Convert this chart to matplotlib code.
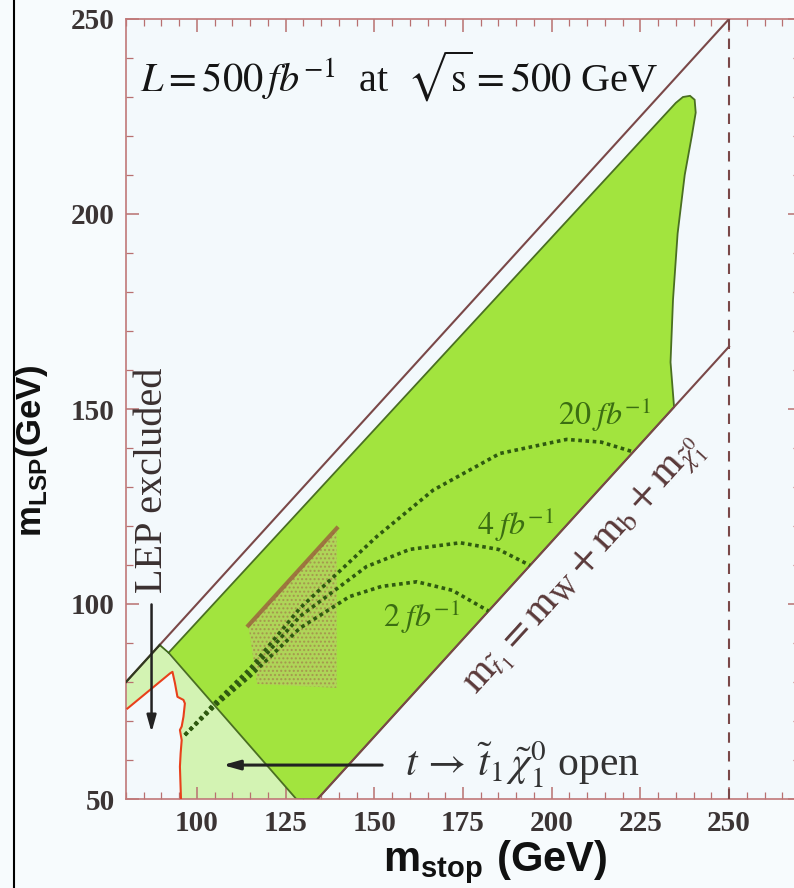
import numpy as np
import matplotlib.pyplot as plt
from matplotlib.patches import Polygon
from matplotlib.lines import Line2D

plt.rcParams['mathtext.fontset'] = 'custom'
plt.rcParams['mathtext.bf'] = 'Liberation Sans:bold'
plt.rcParams['mathtext.rm'] = 'Liberation Sans:bold'
plt.rcParams['hatch.linewidth'] = 1.0

# kinematic limits (m_stop, m_LSP) in GeV
diag_x = [80, 250]
diag_y = [80, 250]
wb_x = [134, 250]          # m_stop = mW + mb + m_LSP
wb_y = [50, 166]
root_s_x = 250             # sqrt(s)/2

# reach region (dark green)
green_x = [92, 128, 134, 234.5, 233.5, 234.2, 235.5, 237.5, 239.5, 240.6, 240.3, 239, 237, 235, 92]
green_y = [87.5, 50, 50, 150.5, 162, 178, 195, 210, 220, 226, 229.3, 230.3, 230, 228.5, 87.5]

# t -> stop + LSP open region (light green)
open_x = [80, 89.5, 129, 95.5, 95.2, 95.4, 95.7, 95.2, 95.7, 96.2, 96.6, 96.2, 94.5, 93.8, 93.1, 92.4, 80]
open_y = [80, 89.5, 50, 50, 58.3, 61.7, 65.1, 67.7, 68.6, 71.1, 74.5, 75.4, 76.2, 79.7, 82.6, 82.2, 73.2]

# LEP excluded boundary
lep_x = [80.4, 92.4, 93.1, 93.8, 94.5, 96.2, 96.6, 96.2, 95.7, 95.2, 95.7, 95.4, 95.2, 95.5]
lep_y = [73.2, 82.2, 82.6, 79.7, 76.2, 75.4, 74.5, 71.1, 68.6, 67.7, 65.1, 61.7, 58.3, 50]

# luminosity reach curves
c2_x = [96.6, 105, 115, 129, 143, 152, 162, 172, 182.2]
c2_y = [66.4, 73.8, 81.5, 93.8, 101.9, 104.5, 105.7, 103.5, 98.2]
c4_x = [96.6, 105, 115, 129, 147.8, 160, 174.2, 185, 193.9]
c4_y = [66.4, 74.2, 82.5, 96.8, 109.6, 114, 115.7, 114, 109.9]
c20_x = [96.6, 105, 115, 129, 150.7, 166.6, 185.4, 204.2, 214, 223]
c20_y = [66.4, 74.6, 83.5, 98.9, 117.3, 129.2, 138.6, 142.2, 141.5, 139]

# simulated scan points (triangle)
scan_x = [114.5, 139.4, 139.4, 117]
scan_y = [94.5, 119.4, 78.5, 79.5]

brown = '#7a4848'
dkgreen = '#2f5a10'
serif = 'Liberation Serif'

fig = plt.figure(figsize=(7.94, 8.88), dpi=100, facecolor='#f7fbfd')
ax = fig.add_axes([126 / 794, 1 - 799 / 888, 674 / 794, 780 / 888])
ax.set_facecolor('#f3f9fc')
ax.set_xlim(80, 270)
ax.set_ylim(50, 250)

ax.add_patch(Polygon(np.column_stack([open_x, open_y]), closed=True,
                     facecolor='#d3f3b3', edgecolor='none', zorder=1))
ax.add_patch(Polygon(np.column_stack([green_x, green_y]), closed=True,
                     facecolor='#a2e43e', edgecolor='#4a6f22', lw=1.3, zorder=2))
# extension of t-threshold line to the diagonal
ax.plot([green_x[0], open_x[1]], [green_y[0], open_y[1]], color='#3d6a18', lw=1.3, zorder=3)
ax.plot(diag_x, diag_y, color=brown, lw=1.5, zorder=5)
ax.plot([diag_x[0], open_x[1]], [diag_y[0], open_y[1]], color='#2f3a20', lw=1.5, zorder=5)

ax.add_patch(Polygon(np.column_stack([scan_x, scan_y]), closed=True,
                     facecolor='#b8cc6a', edgecolor='#a07848', hatch='....',
                     lw=0, alpha=0.6, zorder=3))
ax.plot(scan_x[:2], scan_y[:2], color='#9a5e3c', lw=3, alpha=0.8, zorder=4)

ax.plot(wb_x, wb_y, color=brown, lw=1.5, zorder=5)
ax.axvline(root_s_x, color=brown, lw=1.5, ls=(0, (5, 4)), zorder=5)
ax.plot(lep_x, lep_y, color='#e8401a', lw=1.5, zorder=5)

for cx, cy in [(c2_x, c2_y), (c4_x, c4_y), (c20_x, c20_y)]:
    ax.plot(cx, cy, color=dkgreen, lw=2.6, ls=(0, (1, 1.0)), zorder=6)

ax.text(84, 231.5, r'$L = 500\,fb^{-1}$  at  $\sqrt{\mathrm{s}} = 500$ GeV',
        fontsize=29, family=serif, math_fontfamily='stix', color='#151515', va='baseline')
ax.text(87.6, 131.8, 'LEP excluded', rotation=90, fontsize=29, family=serif,
        color='#3a3030', ha='center', va='center')
ax.annotate('', xy=(87.2, 66.4), xytext=(87.2, 100.6),
            arrowprops=dict(arrowstyle='-|>,head_length=1.0,head_width=0.28',
                            color='#222222', lw=1.8), zorder=7)
ax.annotate('', xy=(106.5, 58.7), xytext=(153, 58.7),
            arrowprops=dict(arrowstyle='-|>,head_length=1.0,head_width=0.28',
                            color='#222222', lw=2.2), zorder=7)
ax.text(158.7, 58.7, r'$t\,\rightarrow\,\tilde{t}_1\,\tilde{\chi}^0_1$ open', fontsize=30,
        family=serif, math_fontfamily='stix', color='#333333', ha='left', va='center')
ax.text(209.5, 109.5, r'$\mathrm{m}_{\tilde{t}_1} = \mathrm{m_W} + \mathrm{m_b} + \mathrm{m}_{\tilde{\chi}^0_1}$',
        fontsize=29, math_fontfamily='stix', color='#5a3a3a', rotation=47.7,
        rotation_mode='anchor', ha='center', va='center')
for lab, x, y in [('20', 215, 148.5), ('4', 189.7, 120.3), ('2', 163.4, 96.7)]:
    ax.text(x, y, r'$%s\;fb^{-1}$' % lab, fontsize=23, math_fontfamily='stix',
            color='#3b6e12', ha='center', va='center')

ax.set_xticks([100, 125, 150, 175, 200, 225, 250])
ax.set_xticks(np.arange(80, 271, 5), minor=True)
ax.set_yticks([50, 100, 150, 200, 250])
ax.set_yticks(np.arange(50, 251, 10), minor=True)
ax.tick_params(which='both', direction='in', top=True, right=True, color='#b87070')
ax.tick_params(which='major', length=9, width=1.1, pad=8, labelsize=21, labelcolor='#3b3434')
ax.tick_params(which='minor', length=5, width=0.9)
for lbl in ax.get_xticklabels() + ax.get_yticklabels():
    lbl.set_family(serif)
    lbl.set_fontweight('bold')
for sp in ax.spines.values():
    sp.set_color('#c07878')
    sp.set_linewidth(1.2)

fig.text(495 / 794, 1 - 862 / 888, r'$\mathbf{m}_{\mathbf{stop}}\ \mathbf{(GeV)}$',
         fontsize=30, ha='center', va='center', color='#111111')
fig.text(31 / 794, 1 - 451 / 888, r'$\mathbf{m}_{\mathbf{LSP}}\mathbf{(GeV)}$',
         fontsize=25, ha='center', va='center', rotation=90, color='#111111')

fig.add_artist(Line2D([14 / 794, 14 / 794], [0, 1], color='black', lw=1.5))

fig.savefig('out.png', dpi=100, facecolor=fig.get_facecolor())
